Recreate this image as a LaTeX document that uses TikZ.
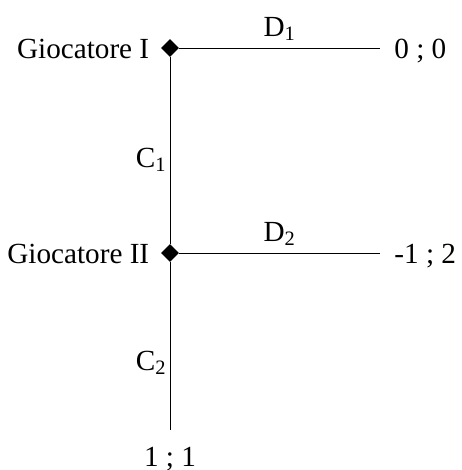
\documentclass[tikz,border=0pt]{standalone}
\usepackage{fontspec}
\setmainfont{Liberation Serif}
\usetikzlibrary{positioning, shapes.geometric}

\begin{document}
\begin{tikzpicture}[x=0.5pt, y=-0.5pt,
    font=\fontsize{14.6}{17}\selectfont,
    decision/.style={diamond, fill=black, inner sep=0pt, minimum size=9pt},
    payoff/.style={text height=12.5pt, text depth=2pt, inner xsep=7pt, inner ysep=5.5pt},
    move/.style={inner sep=1.5pt}]
  \useasboundingbox (0,0) rectangle (461,470);
  % players
  \node[decision] (p1) at (170,48) {};
  \node[decision] (p2) at (170,253) {};
  \node[payoff, inner xsep=0pt, left=5.5pt of p1] (g1) {Giocatore I};
  \node[payoff, inner xsep=0pt, left=5.5pt of p2] (g2) {Giocatore II};
  % outcomes
  \node[payoff, anchor=west] (o1) at (380,48) {0 ; 0};
  \node[payoff, anchor=west] (o2) at (380,253) {-1 ; 2};
  \node[payoff, anchor=north] (o3) at (170,430) {1 ; 1};
  % moves
  \draw (p1) -- node[move, above=2pt] (d1) {D\textsubscript{1}} (o1);
  \draw (p2) -- node[move, above=2pt] (d2) {D\textsubscript{2}} (o2);
  \draw (p1) -- node[move, pos=0.55, left=0pt] (c1) {C\textsubscript{1}} (p2);
  \draw (p2) -- node[move, pos=0.6, left=0pt] (c2) {C\textsubscript{2}} (o3);
\end{tikzpicture}
\end{document}
